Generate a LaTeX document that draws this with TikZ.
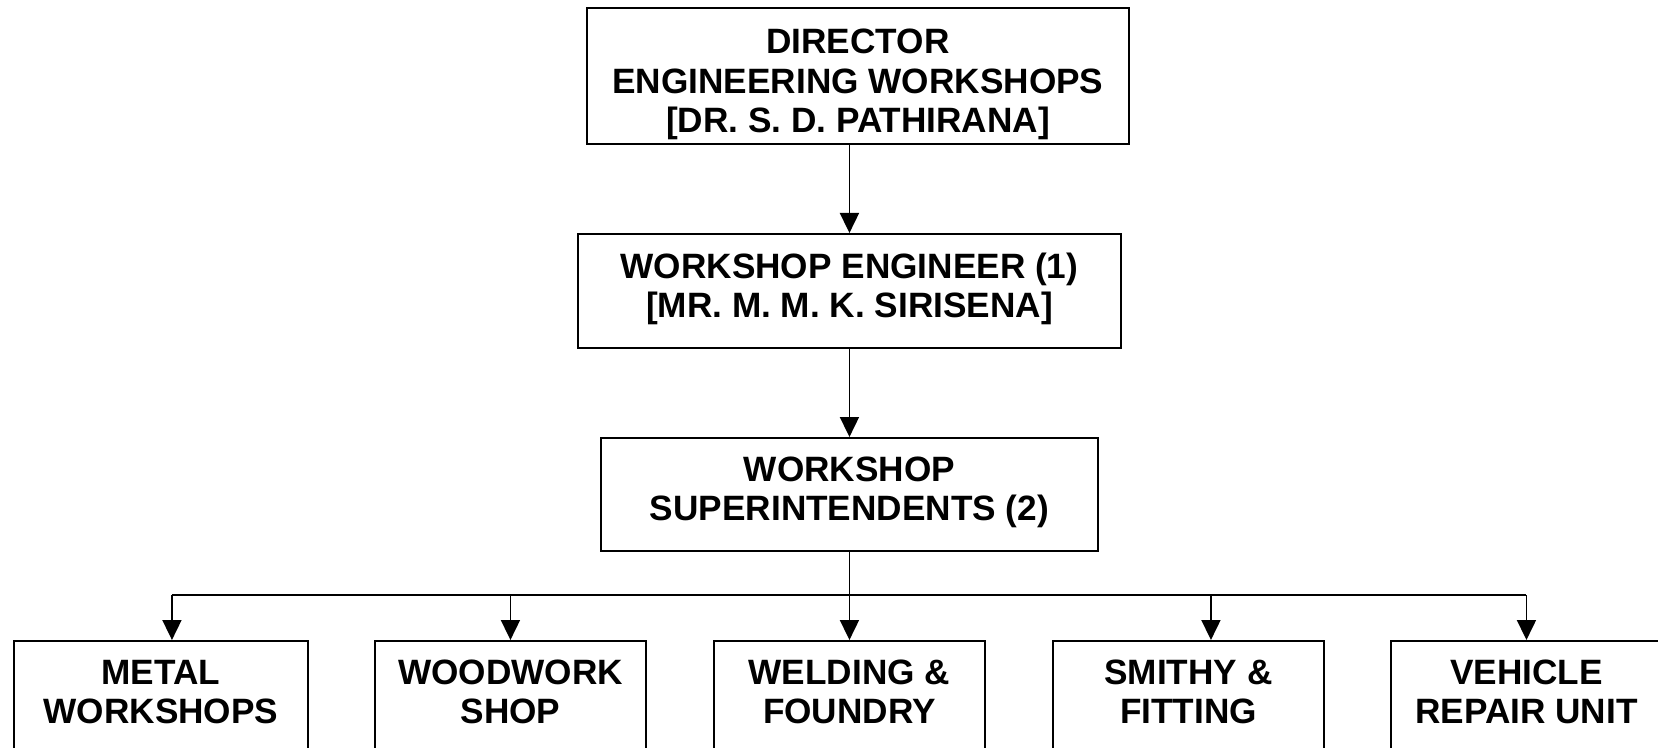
\documentclass[tikz,border=0pt]{standalone}
\usepackage{fontspec}
\setmainfont{Liberation Sans}
\usetikzlibrary{arrows.meta, positioning}

\begin{document}
\begin{tikzpicture}[x=0.5pt, y=-0.5pt,
  box/.style={draw, line width=0.95pt, align=center, inner sep=0pt, anchor=north west,
    text depth=0pt, font=\fontsize{17.6}{19.9}\selectfont\bfseries},
  link/.style={line width=0.9pt, -{Triangle[length=10pt, width=9.5pt]}}]
\clip (0,0) rectangle (1658,748);
\node[box, minimum width=271pt, minimum height=68pt, text height=57pt] (dir) at (586,7) {DIRECTOR\\ENGINEERING WORKSHOPS\\{[}DR. S. D. PATHIRANA{]}};
\node[box, minimum width=271.5pt, minimum height=57pt, text height=27pt] (eng) at (577,233) {WORKSHOP ENGINEER (1)\\{[}MR. M. M. K. SIRISENA{]}};
\node[box, minimum width=248.5pt, minimum height=56.5pt, text height=26.5pt] (sup) at (600,437) {WORKSHOP\\SUPERINTENDENTS (2)};
\node[box, minimum width=147pt, minimum height=65pt, text height=18pt] (metal) at (13,640) {METAL\\WORKSHOPS};
\node[box, minimum width=135.5pt, minimum height=65pt, text height=18pt] (wood) at (374,640) {WOODWORK\\SHOP};
\node[box, minimum width=135.5pt, minimum height=65pt, text height=18pt] (weld) at (713,640) {WELDING \&\\FOUNDRY};
\node[box, minimum width=135.5pt, minimum height=65pt, text height=18pt] (smith) at (1052,640) {SMITHY \&\\FITTING};
\node[box, minimum width=135.5pt, minimum height=65pt, text height=18pt] (vehicle) at (1390,640) {VEHICLE\\REPAIR UNIT};
\coordinate (fork) at (eng.south |- 0,595);
\draw[link] (dir.south -| eng.south) -- (eng.north);
\draw[link] (eng.south) -- (sup.north);
\draw[line width=0.9pt] (sup.south) -- (fork);
\draw[line width=0.9pt] ([xshift=5.5pt]metal.north |- fork) -- (vehicle.north |- fork);
\foreach \b/\s in {metal/5.5pt, wood/0pt, weld/0pt, smith/11.25pt, vehicle/0pt}
  \draw[link] ([xshift=\s]\b.north |- fork) -- ([xshift=\s]\b.north);
\end{tikzpicture}
\end{document}
